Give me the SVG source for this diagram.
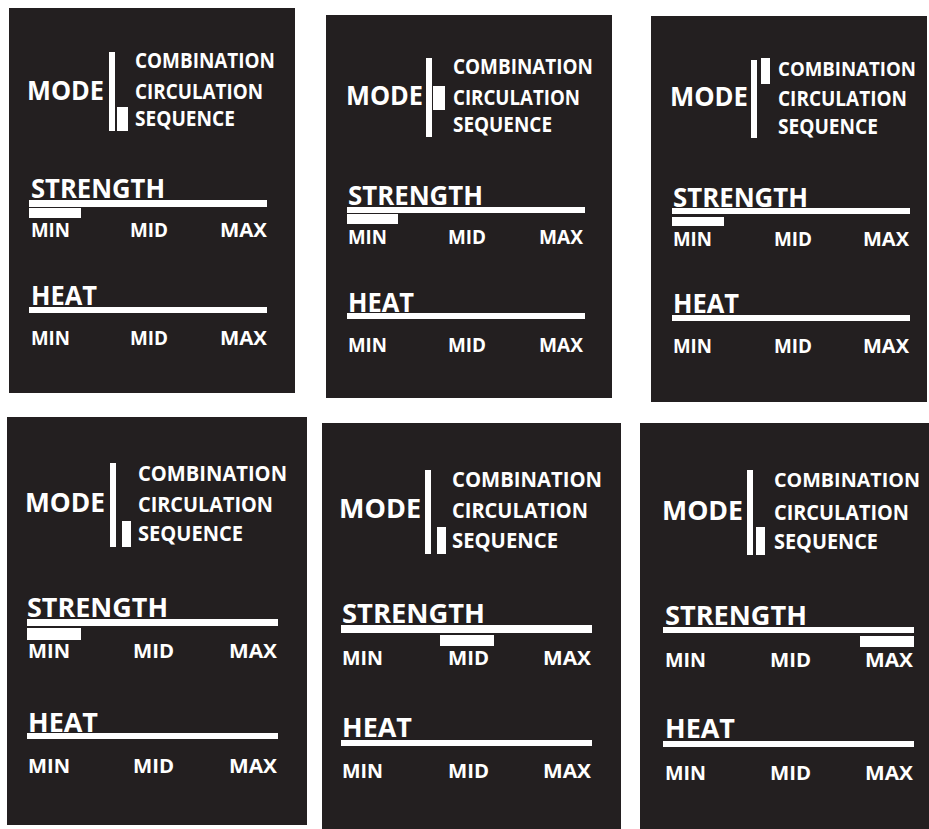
<svg xmlns="http://www.w3.org/2000/svg" width="929" height="829" viewBox="0 0 929 829">
<style>
.panel{fill:#231f20}
.w{fill:#ffffff}
text{fill:#ffffff;font-family:"Open Sans","Noto Sans","DejaVu Sans",sans-serif;font-weight:700}
.mode{font-size:27px}
.opt{font-size:21px}
.opt2{font-size:22px}
.edge{font-size:20px}
.hd{font-size:27px}
.lv{font-size:19.5px}
</style>
<rect width="929" height="829" fill="#ffffff"/>

<g id="panel1">
<rect class="panel" x="9" y="8" width="286" height="385"/>
<rect class="w" x="109" y="52" width="6" height="79"/>
<rect class="w" x="117" y="107" width="11" height="24"/>
<text class="opt" x="135" y="68" textLength="140" lengthAdjust="spacingAndGlyphs">COMBINATION</text>
<text class="opt" x="135" y="99" textLength="128" lengthAdjust="spacingAndGlyphs">CIRCULATION</text>
<text class="opt" x="135" y="126" textLength="100" lengthAdjust="spacingAndGlyphs">SEQUENCE</text>
<text class="mode" x="27" y="100" textLength="77" lengthAdjust="spacingAndGlyphs">MODE</text>
<text class="hd" x="31" y="198" textLength="134" lengthAdjust="spacingAndGlyphs">STRENGTH</text>
<rect class="w" x="29" y="200" width="238" height="7"/>
<rect class="w" x="29" y="208" width="52" height="10"/>
<text class="lv" x="31" y="237" textLength="39" lengthAdjust="spacingAndGlyphs">MIN</text>
<text class="lv" x="130" y="237" textLength="38" lengthAdjust="spacingAndGlyphs">MID</text>
<text class="lv" x="220" y="237" textLength="47" lengthAdjust="spacingAndGlyphs">MAX</text>
<text class="hd" x="31" y="305" textLength="66" lengthAdjust="spacingAndGlyphs">HEAT</text>
<rect class="w" x="29" y="307" width="238" height="6"/>
<text class="lv" x="31" y="345" textLength="39" lengthAdjust="spacingAndGlyphs">MIN</text>
<text class="lv" x="130" y="345" textLength="38" lengthAdjust="spacingAndGlyphs">MID</text>
<text class="lv" x="220" y="345" textLength="47" lengthAdjust="spacingAndGlyphs">MAX</text>
</g>

<g id="panel2">
<rect class="panel" x="326" y="15" width="286" height="383"/>
<rect class="w" x="426" y="58" width="6" height="79"/>
<rect class="w" x="433" y="86" width="12" height="24"/>
<text class="opt" x="453" y="74" textLength="140" lengthAdjust="spacingAndGlyphs">COMBINATION</text>
<text class="opt" x="453" y="105" textLength="127" lengthAdjust="spacingAndGlyphs">CIRCULATION</text>
<text class="opt" x="453" y="132" textLength="99" lengthAdjust="spacingAndGlyphs">SEQUENCE</text>
<text class="mode" x="346" y="105" textLength="77" lengthAdjust="spacingAndGlyphs">MODE</text>
<text class="hd" x="348" y="205" textLength="135" lengthAdjust="spacingAndGlyphs">STRENGTH</text>
<rect class="w" x="347" y="207" width="238" height="6"/>
<rect class="w" x="347" y="214" width="51" height="10"/>
<text class="lv" x="348" y="244" textLength="39" lengthAdjust="spacingAndGlyphs">MIN</text>
<text class="lv" x="448" y="244" textLength="38" lengthAdjust="spacingAndGlyphs">MID</text>
<text class="lv" x="539" y="244" textLength="44" lengthAdjust="spacingAndGlyphs">MAX</text>
<text class="hd" x="348" y="312" textLength="66" lengthAdjust="spacingAndGlyphs">HEAT</text>
<rect class="w" x="347" y="313" width="238" height="6"/>
<text class="lv" x="348" y="352" textLength="39" lengthAdjust="spacingAndGlyphs">MIN</text>
<text class="lv" x="448" y="352" textLength="38" lengthAdjust="spacingAndGlyphs">MID</text>
<text class="lv" x="539" y="352" textLength="44" lengthAdjust="spacingAndGlyphs">MAX</text>
</g>

<g id="panel3">
<rect class="panel" x="651" y="16" width="276" height="386"/>
<rect class="w" x="751" y="60" width="6" height="78"/>
<rect class="w" x="761" y="58" width="9" height="26"/>
<text class="edge" x="778" y="76" textLength="138" lengthAdjust="spacingAndGlyphs">COMBINATION</text>
<text class="opt" x="778" y="106" textLength="129" lengthAdjust="spacingAndGlyphs">CIRCULATION</text>
<text class="opt" x="778" y="134" textLength="100" lengthAdjust="spacingAndGlyphs">SEQUENCE</text>
<text class="mode" x="670" y="106" textLength="78" lengthAdjust="spacingAndGlyphs">MODE</text>
<text class="hd" x="673" y="207" textLength="135" lengthAdjust="spacingAndGlyphs">STRENGTH</text>
<rect class="w" x="672" y="208" width="238" height="6"/>
<rect class="w" x="672" y="217" width="52" height="9"/>
<text class="lv" x="673" y="246" textLength="39" lengthAdjust="spacingAndGlyphs">MIN</text>
<text class="lv" x="774" y="246" textLength="38" lengthAdjust="spacingAndGlyphs">MID</text>
<text class="lv" x="863" y="246" textLength="46" lengthAdjust="spacingAndGlyphs">MAX</text>
<text class="hd" x="673" y="313" textLength="66" lengthAdjust="spacingAndGlyphs">HEAT</text>
<rect class="w" x="672" y="315" width="238" height="6"/>
<text class="lv" x="673" y="353" textLength="39" lengthAdjust="spacingAndGlyphs">MIN</text>
<text class="lv" x="774" y="353" textLength="38" lengthAdjust="spacingAndGlyphs">MID</text>
<text class="lv" x="863" y="353" textLength="46" lengthAdjust="spacingAndGlyphs">MAX</text>
</g>

<g id="panel4">
<rect class="panel" x="7" y="417" width="300" height="408"/>
<rect class="w" x="110" y="463" width="6" height="84"/>
<rect class="w" x="122" y="521" width="9" height="26"/>
<text class="opt2" x="138" y="481" textLength="149" lengthAdjust="spacingAndGlyphs">COMBINATION</text>
<text class="opt2" x="138" y="512" textLength="135" lengthAdjust="spacingAndGlyphs">CIRCULATION</text>
<text class="opt2" x="138" y="541" textLength="105" lengthAdjust="spacingAndGlyphs">SEQUENCE</text>
<text class="mode" x="25" y="512" textLength="80" lengthAdjust="spacingAndGlyphs">MODE</text>
<text class="hd" x="27" y="617" textLength="141" lengthAdjust="spacingAndGlyphs">STRENGTH</text>
<rect class="w" x="27" y="619" width="251" height="7"/>
<rect class="w" x="27" y="628" width="54" height="12"/>
<text class="lv" x="28" y="658" textLength="42" lengthAdjust="spacingAndGlyphs">MIN</text>
<text class="lv" x="133" y="658" textLength="41" lengthAdjust="spacingAndGlyphs">MID</text>
<text class="lv" x="229" y="658" textLength="48" lengthAdjust="spacingAndGlyphs">MAX</text>
<text class="hd" x="28" y="732" textLength="70" lengthAdjust="spacingAndGlyphs">HEAT</text>
<rect class="w" x="27" y="733" width="251" height="6"/>
<text class="lv" x="28" y="773" textLength="42" lengthAdjust="spacingAndGlyphs">MIN</text>
<text class="lv" x="133" y="773" textLength="41" lengthAdjust="spacingAndGlyphs">MID</text>
<text class="lv" x="229" y="773" textLength="48" lengthAdjust="spacingAndGlyphs">MAX</text>
</g>

<g id="panel5">
<rect class="panel" x="322" y="423" width="299" height="406"/>
<rect class="w" x="425" y="470" width="6" height="84"/>
<rect class="w" x="437" y="527" width="9" height="27"/>
<text class="opt2" x="452" y="487" textLength="150" lengthAdjust="spacingAndGlyphs">COMBINATION</text>
<text class="opt2" x="452" y="518" textLength="136" lengthAdjust="spacingAndGlyphs">CIRCULATION</text>
<text class="opt2" x="452" y="548" textLength="106" lengthAdjust="spacingAndGlyphs">SEQUENCE</text>
<text class="mode" x="339" y="518" textLength="82" lengthAdjust="spacingAndGlyphs">MODE</text>
<text class="hd" x="342" y="623" textLength="143" lengthAdjust="spacingAndGlyphs">STRENGTH</text>
<rect class="w" x="341" y="625" width="251" height="8"/>
<rect class="w" x="440" y="635" width="54" height="11"/>
<text class="lv" x="342" y="665" textLength="41" lengthAdjust="spacingAndGlyphs">MIN</text>
<text class="lv" x="448" y="665" textLength="41" lengthAdjust="spacingAndGlyphs">MID</text>
<text class="lv" x="543" y="665" textLength="48" lengthAdjust="spacingAndGlyphs">MAX</text>
<text class="hd" x="342" y="737" textLength="70" lengthAdjust="spacingAndGlyphs">HEAT</text>
<rect class="w" x="341" y="740" width="251" height="6"/>
<text class="lv" x="342" y="778" textLength="41" lengthAdjust="spacingAndGlyphs">MIN</text>
<text class="lv" x="448" y="778" textLength="41" lengthAdjust="spacingAndGlyphs">MID</text>
<text class="lv" x="543" y="778" textLength="48" lengthAdjust="spacingAndGlyphs">MAX</text>
</g>

<g id="panel6">
<rect class="panel" x="640" y="423" width="289" height="406"/>
<rect class="w" x="747" y="470" width="6" height="85"/>
<rect class="w" x="756" y="527" width="9" height="28"/>
<text class="edge" x="774" y="487" textLength="146" lengthAdjust="spacingAndGlyphs">COMBINATION</text>
<text class="opt2" x="774" y="520" textLength="135" lengthAdjust="spacingAndGlyphs">CIRCULATION</text>
<text class="opt2" x="774" y="549" textLength="104" lengthAdjust="spacingAndGlyphs">SEQUENCE</text>
<text class="mode" x="662" y="520" textLength="81" lengthAdjust="spacingAndGlyphs">MODE</text>
<text class="hd" x="665" y="625" textLength="142" lengthAdjust="spacingAndGlyphs">STRENGTH</text>
<rect class="w" x="663" y="627" width="251" height="6"/>
<rect class="w" x="860" y="636" width="54" height="11"/>
<text class="lv" x="665" y="667" textLength="41" lengthAdjust="spacingAndGlyphs">MIN</text>
<text class="lv" x="770" y="667" textLength="41" lengthAdjust="spacingAndGlyphs">MID</text>
<text class="lv" x="865" y="667" textLength="48" lengthAdjust="spacingAndGlyphs">MAX</text>
<text class="hd" x="665" y="738" textLength="70" lengthAdjust="spacingAndGlyphs">HEAT</text>
<rect class="w" x="663" y="741" width="251" height="6"/>
<text class="lv" x="665" y="780" textLength="41" lengthAdjust="spacingAndGlyphs">MIN</text>
<text class="lv" x="770" y="780" textLength="41" lengthAdjust="spacingAndGlyphs">MID</text>
<text class="lv" x="865" y="780" textLength="48" lengthAdjust="spacingAndGlyphs">MAX</text>
</g>
</svg>
